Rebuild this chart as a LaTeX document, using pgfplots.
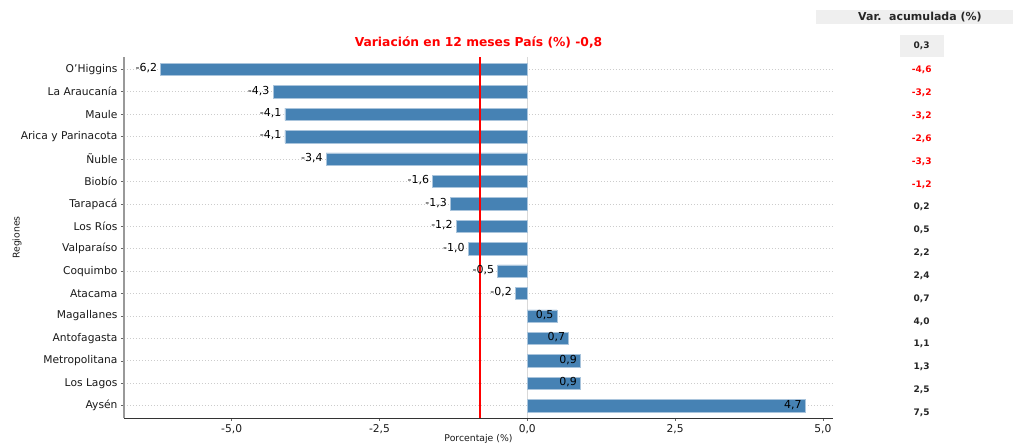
\documentclass[border=0pt]{standalone}
\usepackage{fontspec}
\setmainfont{DejaVu Sans}
\usepackage{pgfplots}
\pgfplotsset{compat=1.18}
\usepackage{pgfplotstable}

\definecolor{barblue}{HTML}{4682B4}
\definecolor{baredge}{HTML}{A9C4DC}
\definecolor{boxgray}{HTML}{EFEFEF}

% regions, bottom (0) to top (15)
\pgfplotstableread{
y  x
0  4.7
1  0.9
2  0.9
3  0.7
4  0.5
5  -0.2
6  -0.5
7  -1.0
8  -1.2
9  -1.3
10 -1.6
11 -3.4
12 -4.1
13 -4.1
14 -4.3
15 -6.2
}\variacion

% accumulated variation column
\pgfplotstableread{
x    y      label
6.67 -0.31  7,5
6.67 0.71   2,5
6.67 1.73   1,3
6.67 2.74   1,1
6.67 3.76   4,0
6.67 4.78   0,7
6.67 5.80   2,4
6.67 6.82   2,2
6.67 7.83   0,5
6.67 8.85   0,2
}\acumpos
\pgfplotstableread{
x    y      label
6.67 9.87   -1,2
6.67 10.89  -3,3
6.67 11.91  -2,6
6.67 12.92  -3,2
6.67 13.94  -3,2
6.67 14.96  -4,6
}\acumneg

\begin{document}
\begin{tikzpicture}
\path[use as bounding box] (-124pt,-29pt) rectangle (889pt,418pt);
\begin{axis}[
    scale only axis,
    width=709pt, height=361pt,
    xmin=-6.82, xmax=5.17,
    ymin=-0.55, ymax=15.55,
    clip=false,
    axis x line*=bottom,
    axis y line*=left,
    x axis line style={-, black!80, line width=0.9pt},
    y axis line style={-, black!40, line width=1.4pt},
    xtick={-5,-2.5,0,2.5,5},
    ytick={0,...,15},
    yticklabels={Aysén, Los Lagos, Metropolitana, Antofagasta, Magallanes,
      Atacama, Coquimbo, Valparaíso, Los Ríos, Tarapacá, Biobío, Ñuble,
      Arica y Parinacota, Maule, La Araucanía, O'Higgins},
    tick align=outside,
    major tick length=3pt,
    tick style={black!60, line width=0.6pt},
    xticklabel style={/pgf/number format/.cd, fixed, fixed zerofill, precision=1, use comma},
    /pgf/number format/assume math mode=true,
    tick label style={font=\fontsize{10.7}{12}\selectfont, text=black!90},
    ymajorgrids,
    major grid style={dash pattern=on 0.8pt off 2.2pt, black!20, line width=0.7pt},
    title={Variación en 12 meses País (\%) -0,8},
    title style={font=\bfseries\fontsize{12.3}{14}\selectfont, text=red,
      at={(axis description cs:0.5,1)}, anchor=south, yshift=-1pt},
    xlabel={Porcentaje (\%)},
    xlabel style={font=\fontsize{9.3}{11}\selectfont, text=black!90,
      at={(axis description cs:0.5,0)}, anchor=center, yshift=-21pt},
    ylabel={Regiones},
    ylabel style={font=\fontsize{9.3}{11}\selectfont, text=black!90,
      at={(axis description cs:-0.151,0.5)}, anchor=center},
  ]
  \addplot[black!15, line width=0.6pt] coordinates {(0,-0.55) (0,15.55)};
  \addplot[xbar, bar width=0.55, fill=barblue, draw=baredge, line width=0.5pt,
    nodes near coords={\pgfmathprintnumber[fixed, fixed zerofill, precision=1, use comma, assume math mode=true]{\pgfplotspointmeta}},
    point meta=x,
    every node near coord/.append style={anchor=east, font=\fontsize{11}{12}\selectfont, text=black, yshift=1pt}]
    table[x=x, y=y] {\variacion};
  \addplot[red, line width=1.5pt] coordinates {(-0.8,-0.55) (-0.8,15.55)};
  \addplot[only marks, mark=none, point meta=explicit symbolic,
    nodes near coords, nodes near coords align=center,
    every node near coord/.append style={font=\bfseries\fontsize{9}{10}\selectfont, text=black!85}]
    table[x=x, y=y, meta=label] {\acumpos};
  \addplot[only marks, mark=none, point meta=explicit symbolic,
    nodes near coords, nodes near coords align=center,
    every node near coord/.append style={font=\bfseries\fontsize{9}{10}\selectfont, text=red}]
    table[x=x, y=y, meta=label] {\acumneg};
  \node[fill=boxgray, minimum width=44pt, minimum height=22pt,
    font=\bfseries\fontsize{9}{10}\selectfont, text=black!85] at (axis cs:6.67,16.03) {0,3};
  \node[fill=boxgray, minimum width=198pt, minimum height=14pt, inner sep=0pt] at (axis cs:6.55,17.34) {};
  \node[inner sep=0pt, font=\bfseries\fontsize{11}{12}\selectfont, text=black!85]
    at (axis cs:6.64,17.34) {Var.\ \ acumulada (\%)};
\end{axis}
\end{tikzpicture}
\end{document}
